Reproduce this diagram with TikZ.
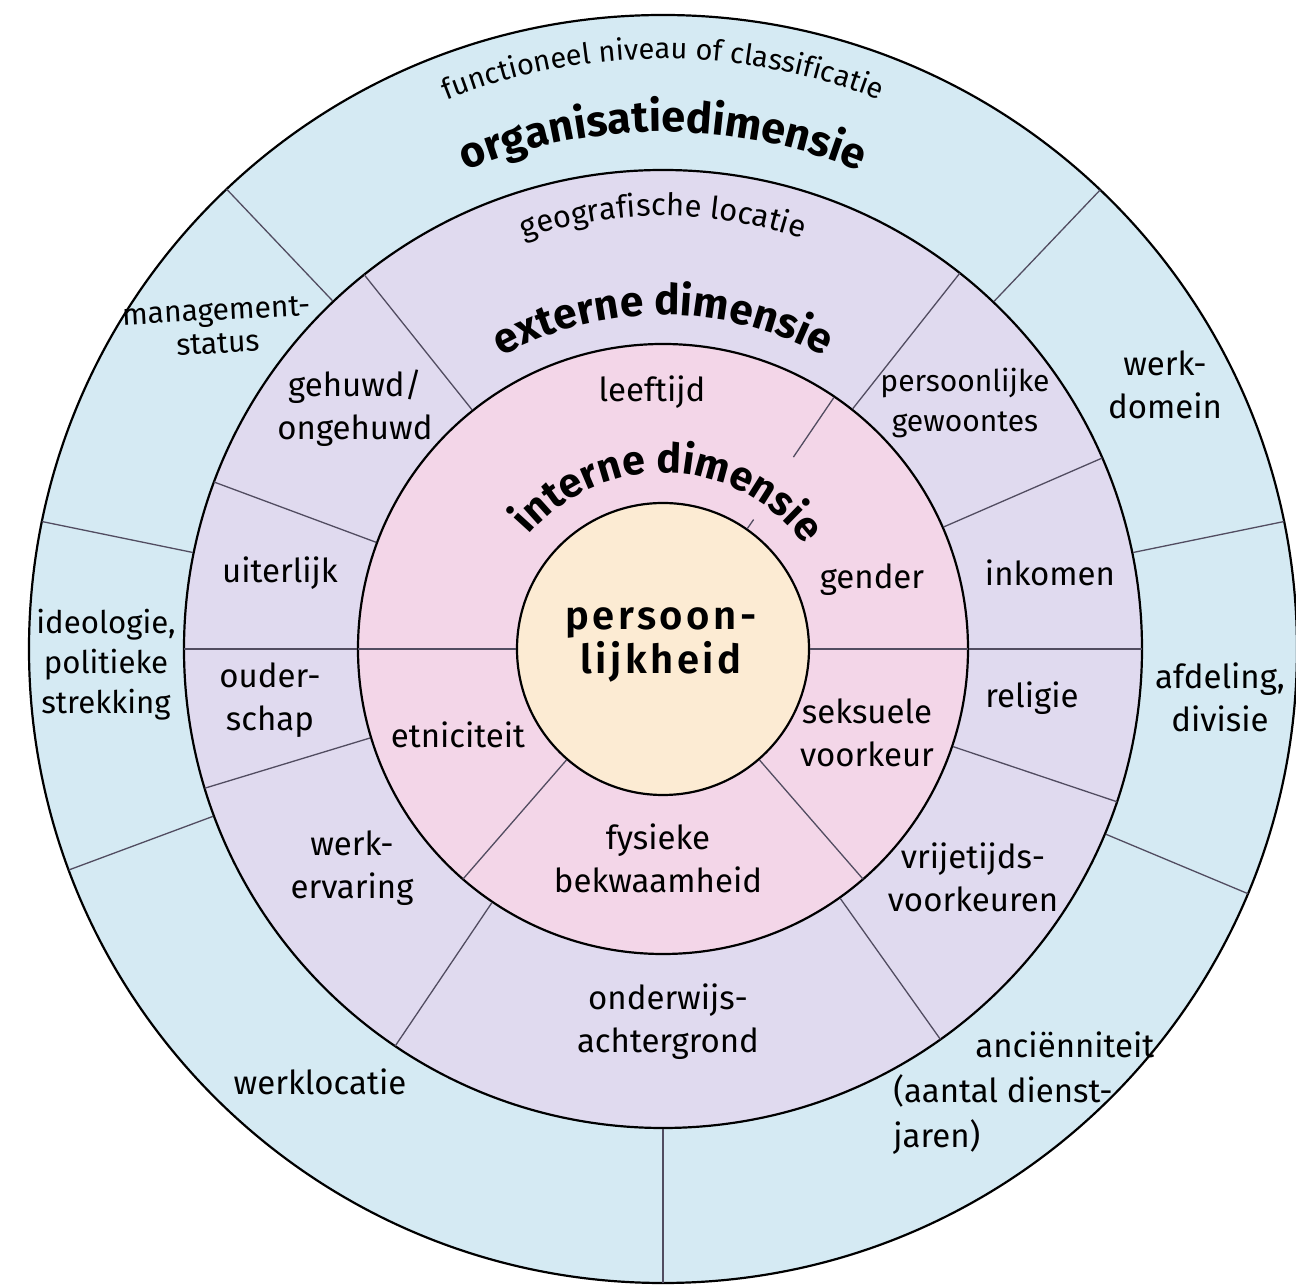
\documentclass[tikz,border=0pt]{standalone}
\usepackage{fontspec}
\setmainfont{Fira Sans}
\newfontfamily\kernfont[LetterSpace=9]{Fira Sans SemiBold}
\usetikzlibrary{decorations.text}

\definecolor{orgblauw}{HTML}{D5EAF3}
\definecolor{extlila}{HTML}{E0DAEF}
\definecolor{introze}{HTML}{F3D6E8}
\definecolor{kernperzik}{HTML}{FCEBD3}
\definecolor{spaak}{HTML}{514C60}

\begin{document}
\begin{tikzpicture}[x=0.5pt, y=0.5pt]
        \tikzstyle{ring}=[draw=black, line width=1.1pt]
        \tikzstyle{spaakje}=[draw=spaak, line width=0.65pt]
        \tikzstyle{vak}=[align=center, inner sep=0pt, font=\fontsize{16.5}{21.5}\selectfont]
        \tikzstyle{klein}=[vak, font=\fontsize{15}{20}\selectfont]
        \useasboundingbox (-663,-639) rectangle (633,649);
        \fill[white] (-663,-639) rectangle (633,649);

        % ringen van buiten naar binnen
        \draw[ring, fill=orgblauw]   (0,0) circle[radius=634];
        \draw[ring, fill=extlila]    (0,0) circle[radius=479];
        \draw[ring, fill=introze]    (0,0) circle[radius=305];
        \draw[ring, fill=kernperzik] (0,0) circle[radius=146];

        % scheidingslijnen
        \foreach \a in {11.6,46.4,133.5,168.4,200.4,270,337.3}
            \draw[spaakje] (\a:480) -- (\a:634);
        \foreach \a in {0,23.5,51.7,128.6,159.6,180,196.9,236,305.4,341.4}
            \draw[spaakje] (\a:306) -- (\a:479);
        \foreach \a in {0,180,229,311}
            \draw[spaakje] (\a:147) -- (\a:305);
        \draw[spaakje] (55.8:232) -- (55.8:304);
        \draw[spaakje] (55:147) -- (55:158);

        % gebogen titels
        \path[decorate, decoration={text along path, text align=center,
            text={|\fontsize{14.5}{14.5}\selectfont|functioneel niveau of classificatie}}]
            (160:590) arc[start angle=160, end angle=20, radius=590];
        \path[decorate, decoration={text along path, text align=center,
            text={|\fontsize{21.6}{21.6}\bfseries|organisatiedimensie}}]
            (160:517) arc[start angle=160, end angle=20, radius=517];
        \path[decorate, decoration={text along path, text align=center,
            text={|\fontsize{15.5}{15.5}\selectfont|geografische locatie}}]
            (160:433) arc[start angle=160, end angle=20, radius=433];
        \path[decorate, decoration={text along path, text align=center,
            text={|\fontsize{21.2}{21.2}\bfseries|externe dimensie}}]
            (170:334) arc[start angle=170, end angle=10, radius=334];
        \path[decorate, decoration={text along path, text align=center,
            text={|\fontsize{20.5}{20.5}\bfseries|interne dimensie}}]
            (178:176) arc[start angle=178, end angle=-2, radius=176];

        % organisatiedimensie
        \node[klein, rotate=3, font=\fontsize{15}{16.5}\selectfont] (management) at (-446,322) {management-\\status};
        \node[vak, font=\fontsize{15.6}{20}\selectfont] (ideologie) at (-557,-16) {ideologie,\\politieke\\strekking};
        \node[vak] (werklocatie) at (-343,-433) {werklocatie};
        \node[vak, align=left, anchor=west, font=\fontsize{16.5}{22.5}\selectfont] (ancien) at (230,-444)
            {\hspace*{41pt}anciënniteit\\(aantal dienst-\\jaren)};
        \node[vak] (afdeling) at (557,-48) {afdeling,\\divisie};
        \node[vak] (werkdomein) at (502,264) {werk-\\domein};

        % externe dimensie
        \node[vak] (gehuwd) at (-308,241) {gehuwd/\\ongehuwd};
        \node[vak] (uiterlijk) at (-383,76) {uiterlijk};
        \node[vak] (ouderschap) at (-393,-51) {ouder-\\schap};
        \node[vak] (werkervaring) at (-311,-219) {werk-\\ervaring};
        \node[vak] (onderwijs) at (5,-373) {onderwijs-\\achtergrond};
        \node[vak] (vrijetijd) at (310,-228) {vrijetijds-\\voorkeuren};
        \node[vak] (religie) at (369,-49) {religie};
        \node[vak] (inkomen) at (387,76) {inkomen};
        \node[klein] (gewoontes) at (302,246) {persoonlijke\\gewoontes};

        % interne dimensie
        \node[vak] (leeftijd) at (-11,257) {leeftijd};
        \node[vak] (gender) at (209,69) {gender};
        \node[vak] (etniciteit) at (-205,-86) {etniciteit};
        \node[vak] (voorkeur) at (204,-84) {seksuele\\voorkeur};
        \node[vak] (fysiek) at (-5,-209) {fysieke\\bekwaamheid};

        \node[vak, font=\fontsize{20}{22}\kernfont] (kern) at (-2,4) {persoon-\\lijkheid};
\end{tikzpicture}
\end{document}
